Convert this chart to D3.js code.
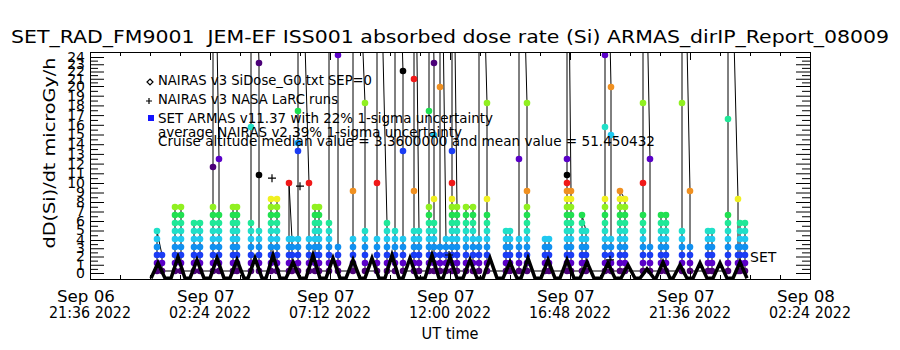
<!DOCTYPE html>
<html>
<head>
<meta charset="utf-8">
<script src="https://cdn.jsdelivr.net/npm/d3@7"></script>
<style>
  body { margin: 0; background: #fff; }
  svg { display: block; font-family: "DejaVu Sans", sans-serif; }
</style>
</head>
<body>
<svg id="chart" width="900" height="350"></svg>
<script>
// ---- data ----
const titleText = "SET_RAD_FM9001  JEM-EF ISS001 absorbed dose rate (Si) ARMAS_dirIP_Report_08009";
const yTitle = "dD(Si)/dt microGy/h";
const xTitle = "UT time";

// x ticks, hours from Sep 07 00:00 UT
const xTickHours = [-2.4, 2.4, 7.2, 12, 16.8, 21.6, 26.4];
const xTickDays = ["Sep 06", "Sep 07", "Sep 07", "Sep 07", "Sep 07", "Sep 07", "Sep 08"];
const xTickTimes = ["21:36 2022", "02:24 2022", "07:12 2022", "12:00 2022", "16:48 2022", "21:36 2022", "02:24 2022"];
const yTickLabels = [0,1,2,3,4,5,6,7,8,9,10,11,12,13,14,15,16,17,18,19,20,21,22,23,24];

const legendLines = [
  "NAIRAS v3 SiDose_G0.txt SEP=0",
  "NAIRAS v3 NASA LaRC runs",
  "SET ARMAS v11.37 with 22% 1-sigma uncertainty",
  "average NAIRAS v2 39% 1-sigma uncertainty",
  "Cruise altitude median value = 3.3600000 and mean value = 51.450432"
];

// NAIRAS SiDose, hours / dose
const nairasHours = [0.04,0.32,0.60, 0.84,1.12,1.40, 1.60,1.88,2.16, 2.40,2.68,2.96, 3.20,3.48,3.76,
  3.92,4.20,4.48, 4.64,4.92,5.20, 5.44,5.72,6.00, 6.24,6.52,6.80, 7.04,7.32,7.60, 7.84,8.12,8.40,
  8.60,8.88,9.16, 9.40,9.68,9.96, 10.12,10.40,10.68, 11.00,11.28,11.56, 11.72,12.00,12.28,
  12.52,12.80,13.08, 13.32,13.60,13.88, 14.12,14.40,14.68, 14.84,15.12,15.40, 15.64,15.92,16.20,
  16.40,16.68,16.96, 17.20,17.48,17.76, 18.04,18.32,18.60, 18.84,19.12,19.40, 19.60,19.88,20.16,
  20.24,20.52,20.80, 20.92,21.20,21.48, 21.72,22.00,22.28, 22.52,22.80,23.08, 23.32,23.60,23.88];
const nairasDose = [0.1,2.0,0.1, 0.1,2.75,0.1, 0.1,2.4,0.1, 0.1,2.6,0.1, 0.1,2.4,0.1,
  0.1,2.6,0.1, 0.1,3.0,0.1, 0.1,2.1,0.1, 0.1,3.0,0.1, 0.1,2.6,0.1, 0.1,2.4,0.1,
  0.1,2.6,0.1, 0.1,3.0,0.1, 0.1,2.6,0.1, 0.1,3.0,0.1, 0.1,2.75,0.1,
  0.1,2.4,0.1, 0.1,2.6,0.1, 0.1,2.1,0.1, 0.1,2.6,0.1, 0.1,2.4,0.1,
  0.1,2.4,0.1, 0.1,2.1,0.1, 0.1,2.0,0.1, 0.1,1.75,0.1, 0.1,1.25,0.1,
  0.1,2.1,0.1, 0.1,1.75,0.1, 0.1,2.0,0.1, 0.1,2.0,0.1, 0.1,2.1,0.1];

// NAIRAS LaRC runs
const larcHours = [4.88, 6.0, 11.96, 18.4];
const larcDose = [12.6, 11.6, 3.0, 2.4];

// SET ARMAS passes: levels on the way up, then down (60 = off scale)
const armasRiseHour = [0.28, 1.00, 1.76, 2.52, 3.32, 4.04, 4.84, 5.56, 5.92, 6.60, 7.16, 8.12, 9.08, 9.80, 10.56, 11.16,
  11.60, 12.08, 12.64, 13.16, 14.24, 14.76, 15.80, 16.68, 17.28, 18.20, 18.80, 19.72, 20.44, 21.28, 22.32, 23.12, 23.60];
const armasFallHour = [0.48, 1.24, 2.00, 2.76, 3.48, 4.36, 5.08, 5.68, 6.36, 6.76, 7.52, 8.60, 9.48, 10.12, 10.76, 11.36,
  11.84, 12.28, 12.92, 13.48, 14.40, 15.08, 15.96, 16.84, 17.44, 18.44, 19.00, 20.00, 20.64, 21.60, 22.48, 23.52, 23.80];
const armasRise = [
  [1,2,3,4,5,6], [1,2,3,4,5,6,7,8,9], [1,2,3,4,5,6,7], [1,2,3,4,5,6,7,8,9,14,60],
  [1,2,3,4,5,6,7,8,9], [1,2,3,4,5,6,7,19,60], [1,2,3,4,5,6,7,8,9,10], [1,2,3,4,5,12],
  [1,2,3,4,5,16,17,21,60], [1,2,3,4,5,6,7,8,9], [1,2,3,4,5,6,7,60], [1,2,3,4,5,11,60],
  [1,2,3,4,5,12,60], [1,2,3,4,5,6,60], [1,2,3,4,5,6,11,25,60], [1,2,3,4,5,6,7,8,9,21,60],
  [1,2,3,4,24,60], [1,2,3,4,5,6,7,8,9,10,12,16,60], [1,2,3,4,5,6,7,8,9], [1,2,3,4,5,60],
  [1,2,3,4,5,6], [1,2,3,4,5,15,60], [1,2,3,4,5], [1,2,3,4,5,6,7,8,9,10,11,12,13,15,60],
  [1,2,3,4,5,6,7,8], [1,2,3,4,5,6,7,8,9,10,19,28,60], [1,2,3,4,5,6,7,8,9,10,11],
  [1,2,3,4,5,6,7,8,12,22,60], [1,2,3,4,5,6,7,8], [1,2,3,4,5,6,22,60], [1,2,3,4,5,6],
  [1,2,3,4,5,6,7,8,20,60], [1,2,3,4,5,6,7]
];
const armasFall = [
  [3,2,1], [9,8,7,6,5,4,3,2,1], [7,6,5,4,3,2,1], [15,8,7,6,5,4,3,2,1],
  [9,8,7,6,5,4,3,2,1], [27,13,6,5,4,3,2,1], [10,9,8,7,6,5,4,3,2,1], [5,4,3,2,1],
  [12,5,4,3,2,1], [9,8,7,6,5,4,3,2,1], [28,4,3,2,1], [22,6,5,4,3,2,1],
  [7,6,5,4,3,2,1], [26,16,5,4,3,2,1], [6,5,4,3,2,1], [27,18,10,7,6,5,4,3,2,1],
  [5,4,3,2,1], [9,8,7,6,5,4,3,2,1], [9,8,7,6,5,4,3,2,1], [22,10,8,7,6,5,4,3,2,1],
  [6,5,4,3,2,1], [22,11,9,8,7,6,5,4,3,2,1], [5,4,3,2,1], [11,10,9,8,7,6,5,4,3,2,1],
  [6,5,4,3,2,1], [24,18,5,4,3,2,1], [10,9,8,7,6,5,4,3,2,1],
  [15,4,3,2,1], [8,7,6,5,4,3,2,1], [11,4,3,2,1], [6,5,4,3,2,1],
  [10,4,3,2,1], [7,6,5,4,3,2,1]
];

// colour table, wraps every 13 levels
const levelColors = ["#000000", "#4b0078", "#5a00c8", "#1a3cf5", "#1090f0", "#20c8f0", "#20e0c8",
  "#20e898", "#20e050", "#90f020", "#f0f020", "#f09020", "#f01818"];

// ---- drawing ----
const t0 = Date.UTC(2022, 8, 7);
const toDate = h => new Date(t0 + h * 3600000);

const plotL = 90, plotR = 810, plotT = 52, plotB = 279;
const svg = d3.select("#chart");

const x = d3.scaleUtc().domain([toDate(-2.4), toDate(26.4)]).range([plotL, plotR]);
const y = d3.scaleLinear().domain([0, 28.375]).range([plotB, plotT]);
// label axis of the original is uneven
const yLab = d3.scaleLinear().domain([0, 4, 10, 20, 24]).range([273, 240, 183, 86, 57]);

svg.append("defs").append("clipPath").attr("id", "plotclip")
  .append("rect").attr("x", plotL).attr("y", plotT).attr("width", plotR - plotL).attr("height", plotB - plotT);

// title
svg.append("text")
  .attr("x", 11).attr("y", 43)
  .attr("font-size", 17)
  .attr("textLength", 878).attr("lengthAdjust", "spacingAndGlyphs")
  .style("white-space", "pre")
  .text(titleText);

// ARMAS series
let armasPts = [];
armasRiseHour.forEach(function(h, i) {
  armasRise[i].forEach(v => armasPts.push({ t: toDate(h), v: v }));
  armasFall[i].forEach(v => armasPts.push({ t: toDate(armasFallHour[i]), v: v }));
});

const plot = svg.append("g").attr("clip-path", "url(#plotclip)");

plot.append("path")
  .attr("fill", "none").attr("stroke", "#000").attr("stroke-width", 1)
  .attr("d", d3.line().x(d => x(d.t)).y(d => y(d.v))(armasPts));

plot.selectAll("circle.armas")
  .data(armasPts.filter(d => d.v <= 28.4))
  .enter().append("circle")
  .attr("class", "armas")
  .attr("cx", d => x(d.t)).attr("cy", d => y(d.v))
  .attr("r", 3.3)
  .attr("fill", d => levelColors[Math.round(d.v) % 13]);

// NAIRAS SiDose
const nairasPts = nairasHours.map((h, i) => ({ t: toDate(h), v: nairasDose[i] }));
plot.append("path")
  .attr("fill", "none").attr("stroke", "#000").attr("stroke-width", 3.5)
  .attr("stroke-linejoin", "miter")
  .attr("d", d3.line().x(d => x(d.t)).y(d => y(d.v))(nairasPts));

// LaRC runs
larcHours.forEach(function(h, i) {
  let cx = x(toDate(h)), cy = y(larcDose[i]);
  plot.append("path")
    .attr("stroke", "#000").attr("stroke-width", 1.2).attr("fill", "none")
    .attr("d", "M" + (cx - 4) + "," + cy + "H" + (cx + 4) + "M" + cx + "," + (cy - 4) + "V" + (cy + 4));
});

plot.append("text")
  .attr("x", x(toDate(24.0))).attr("y", 262)
  .attr("font-size", 14)
  .text("SET");

// frame
svg.append("rect")
  .attr("x", plotL + 0.5).attr("y", plotT + 0.5)
  .attr("width", plotR - plotL).attr("height", plotB - plotT)
  .attr("fill", "none").attr("stroke", "#000");

// x ticks (top and bottom)
const xMinor = d3.range(-2.4, 26.41, 1.2).map(toDate);
const xMajor = xTickHours.map(toDate);

function noDomain(g) { g.select(".domain").remove(); }

svg.append("g").attr("transform", "translate(0," + plotB + ")")
  .call(d3.axisBottom(x).tickValues(xMinor).tickSize(-4).tickFormat(""))
  .call(noDomain);
svg.append("g").attr("transform", "translate(0," + plotB + ")")
  .call(d3.axisBottom(x).tickValues(xMajor).tickSize(-8).tickFormat(""))
  .call(noDomain);
svg.append("g").attr("transform", "translate(0," + plotT + ")")
  .call(d3.axisTop(x).tickValues(xMinor).tickSize(-4).tickFormat(""))
  .call(noDomain);
svg.append("g").attr("transform", "translate(0," + plotT + ")")
  .call(d3.axisTop(x).tickValues(xMajor).tickSize(-8).tickFormat(""))
  .call(noDomain);

// x tick labels, two lines
xMajor.forEach(function(d, i) {
  svg.append("text")
    .attr("x", x(d) - 4).attr("y", 302)
    .attr("text-anchor", "middle").attr("font-size", 15)
    .attr("textLength", 58).attr("lengthAdjust", "spacingAndGlyphs")
    .text(xTickDays[i]);
  svg.append("text")
    .attr("x", x(d)).attr("y", 318)
    .attr("text-anchor", "middle").attr("font-size", 15)
    .attr("textLength", 82).attr("lengthAdjust", "spacingAndGlyphs")
    .text(xTickTimes[i]);
});

svg.append("text")
  .attr("x", 450).attr("y", 339)
  .attr("text-anchor", "middle").attr("font-size", 15)
  .attr("textLength", 57).attr("lengthAdjust", "spacingAndGlyphs")
  .text(xTitle);

// y ticks, left and right
const yHalf = d3.range(0.5, 24, 1);

svg.append("g").attr("transform", "translate(" + plotL + ",0)")
  .call(d3.axisLeft(yLab).tickValues(yTickLabels).tickSize(-14).tickPadding(5).tickFormat(d3.format("d")))
  .call(noDomain)
  .call(g => g.selectAll("text").attr("font-size", 14).attr("font-family", "DejaVu Sans").attr("fill", "#000"));
svg.append("g").attr("transform", "translate(" + plotL + ",0)")
  .call(d3.axisLeft(yLab).tickValues(yHalf).tickSize(-8).tickFormat(""))
  .call(noDomain);
svg.append("g").attr("transform", "translate(" + plotR + ",0)")
  .call(d3.axisRight(yLab).tickValues(yTickLabels).tickSize(-14).tickFormat(""))
  .call(noDomain);
svg.append("g").attr("transform", "translate(" + plotR + ",0)")
  .call(d3.axisRight(yLab).tickValues(yHalf).tickSize(-8).tickFormat(""))
  .call(noDomain);

svg.append("text")
  .attr("transform", "translate(55,153) rotate(-90)")
  .attr("text-anchor", "middle").attr("font-size", 16)
  .attr("textLength", 191).attr("lengthAdjust", "spacingAndGlyphs")
  .text(yTitle);

// legend
const legX = 158;
const legBase = [85, 104, 123, 137, 146];
const legWidth = [214, 180, 335, 304, 497];
legendLines.forEach(function(s, i) {
  svg.append("text")
    .attr("x", legX).attr("y", legBase[i])
    .attr("font-size", 14)
    .attr("textLength", legWidth[i]).attr("lengthAdjust", "spacingAndGlyphs")
    .text(s);
});
svg.append("path")
  .attr("d", "M150,79L153,82L150,85L147,82Z")
  .attr("fill", "none").attr("stroke", "#000").attr("stroke-width", 1.2);
svg.append("path")
  .attr("d", "M146,101H152M149,98V104")
  .attr("stroke", "#000").attr("stroke-width", 1.2);
svg.append("rect")
  .attr("x", 148).attr("y", 115).attr("width", 6).attr("height", 6)
  .attr("fill", "#1414ff");
</script>
</body>
</html>
